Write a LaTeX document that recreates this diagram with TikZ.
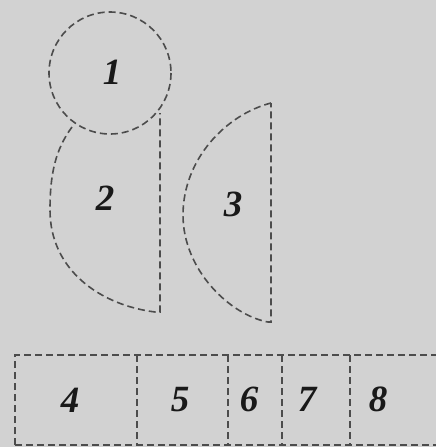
\documentclass[tikz,border=0pt]{standalone}
\usepackage{fontspec}
\setmainfont{Liberation Serif}
\begin{document}
\begin{tikzpicture}[x=1pt,y=-1pt,
  outl/.style={draw=black!70, dash pattern=on 7pt off 4pt, line width=1.6pt, line cap=butt},
  lbl/.style={font=\fontsize{37}{37}\selectfont\bfseries\itshape, inner sep=0pt, text=black!90}]
\fill[gray!35] (0,0) rectangle (436,447);
\useasboundingbox (0,0) rectangle (436,447);
% shape 1
\draw[outl] (110,73) circle (61);
% shape 2
\draw[outl] (72,127) .. controls (55,150) and (50,175) .. (50,210)
  .. controls (50,270) and (100,305) .. (155,312) -- (160,312) -- (160,113);
% shape 3
\draw[outl] (271,103) .. controls (225,115) and (183,160) .. (183,215)
  .. controls (183,270) and (230,315) .. (268,322) -- (271,322) -- cycle;
% bottom row
\draw[outl] (15,445) -- (15,355) -- (436,355);
\draw[outl] (15,445) -- (436,445);
\foreach \xx in {137,228,282,350} \draw[outl] (\xx,355) -- (\xx,445);
% labels
\node[lbl] (l1) at (112,72) {1};
\node[lbl] (l2) at (105,198) {2};
\node[lbl] (l3) at (233,204) {3};
\node[lbl] (l4) at (70,400) {4};
\node[lbl] (l5) at (180,400) {5};
\node[lbl] (l6) at (249,399) {6};
\node[lbl] (l7) at (307,399) {7};
\node[lbl] (l8) at (378,399) {8};
\end{tikzpicture}
\end{document}
